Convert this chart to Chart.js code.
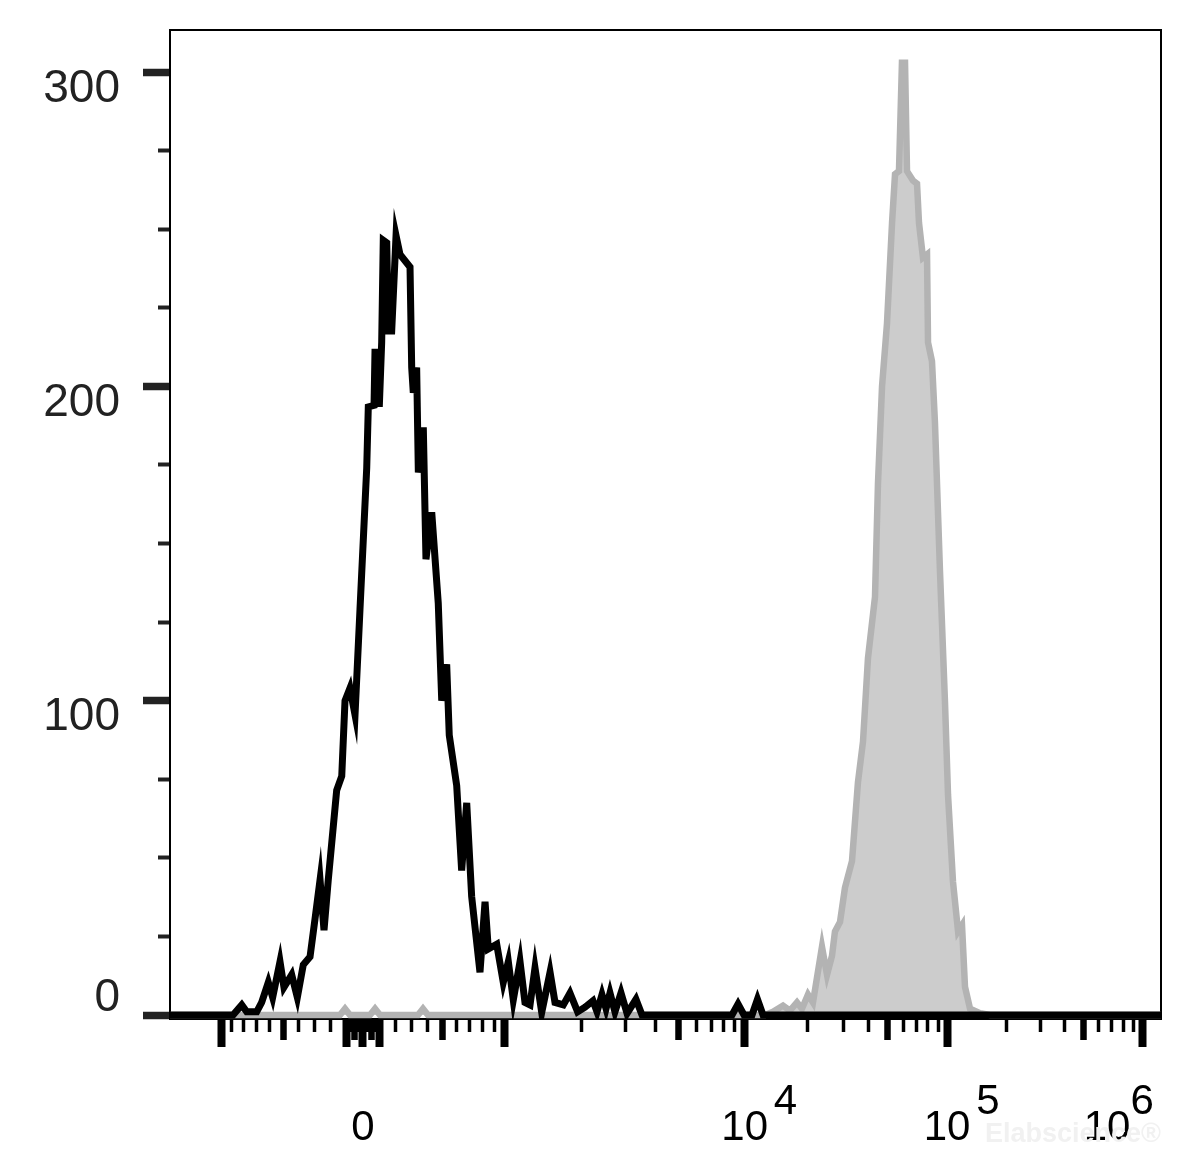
<!DOCTYPE html>
<html>
<head>
<meta charset="utf-8">
<script src="https://cdn.jsdelivr.net/npm/chart.js@4.4.0/dist/chart.umd.min.js"></script>
<style>
html,body{margin:0;padding:0;background:#ffffff;}
#wrap{width:1196px;height:1170px;position:relative;}
</style>
</head>
<body>
<div id="wrap"><canvas id="c" width="1196" height="1170"></canvas></div>
<script>
// ---------- DATA (histograms in display channels 0..1000, counts) ----------
const blackChannels = [0,63.6,72.4,77.4,87.5,92.5,99.2,103.6,111.0,115.0,122.8,128.5,134.5,141.3,146.3,151.4,155.4,159.7,168.2,173.3,176.6,181.6,186.7,191.7,198.5,200.1,205.9,206.9,211.2,213.6,215.2,218.7,220.3,223.7,228.1,232.1,242.2,243.9,245.5,248.9,250.6,255.6,258.3,264.1,270.7,274.2,279.2,281.8,289.3,294.3,299.4,304.4,312.8,317.9,321.2,329.7,336.3,341.4,346.4,353.2,358.2,363.3,368.3,375.1,383.5,388.5,396.9,403.6,411.3,418.8,426.8,430.9,435.9,440.0,444.0,449.0,455.1,461.2,470.2,476.3,567.1,573.2,579.2,587.3,592.8,598.4,1000];
const blackCounts = [0,0,3.2,1,1,4,10.4,5.6,17,8.8,12.8,5.6,16,18.5,30.5,43,27,43,71.5,76,100,104,95.5,129,174,193.5,194,212,193.5,214,246.5,245.7,217.6,217.6,248,242,238,206,198,206,172.6,187,145,160,131,100,111.6,89,73,46,67.5,37.7,13.6,36,21,22.5,10.4,17,4.8,17,4,3.2,15,0.8,13.6,4,3.2,7,1,2.5,4.5,1,6.5,2,7,1,7,0.5,5,0,0,3.5,0,0,5,0,0];

const grayChannels = [0,63.6,171.5,176.6,181.6,201.8,206.9,211.9,250.3,255.3,260.3,600.4,608.5,618.6,625.6,632.7,637.7,643.8,648.8,657.9,663.0,668.0,671.0,676.1,681.1,688.2,694.2,699.3,704.3,711.4,714.4,718.5,723.5,728.6,731.6,735.6,738.6,741.7,743.7,749.7,753.8,755.8,759.8,763.9,764.9,768.9,771.9,777.0,782.0,785.1,790.1,795.2,799.2,802.2,807.3,817.4,827.4,1000];
const grayCounts = [0,0,0,2,0,0,2,0,0,2,0,0,1,3,1.4,4,2,6.5,4,21.7,12.8,18.8,26.6,29.6,40.5,49,74,87,113.5,133,169,200,220,252,267.5,268.5,303,303,268.5,265.5,264.5,252,241,242,214,208,188.5,141,99.7,70,42.4,26.6,28.6,9,2,0.6,0,0];

// ---------- AXIS DEFINITIONS ----------
const yMajorTicks = [0, 100, 200, 300];
const yMinorTicks = [0, 25, 50, 75, 100, 125, 150, 175, 200, 225, 250, 275, 300];
const xDecades = [10, 100, 1000, 10000, 100000, 1000000];
const xMultipliers = [1, 2, 3, 4, 5, 6, 7, 8, 9];
const xMajorValues = [-1000, -100, 0, 100, 1000, 10000, 100000, 1000000];
const xLabelValues = [0, 10000, 100000, 1000000];
const xLabelBase = ['0', '10', '10', '10'];
const xLabelExp = ['', '4', '5', '6'];
const watermarkText = 'Elabscience\u00AE';

// logicle (biexponential) display transform parameters
const LOGICLE = {K: 96.3, P: 4.3, zeroChannel: 194.75, channelsPerUnit: 85.02};
function valueToChannel(v) {
  const a = Math.abs(v), K = LOGICLE.K, P = LOGICLE.P;
  const f = u => K * (Math.exp(u) - P * P * Math.exp(-u / P) + P * P - 1);
  let lo = 0, hi = 20;
  for (let i = 0; i < 80; i++) { const m = (lo + hi) / 2; if (f(m) < a) lo = m; else hi = m; }
  return LOGICLE.zeroChannel + Math.sign(v) * LOGICLE.channelsPerUnit * (lo + hi) / 2;
}
function tickLevel(v) {
  if (xMajorValues.includes(v)) return 2;
  const a = Math.abs(v);
  const d = Math.pow(10, Math.floor(Math.log10(a)));
  return Math.round(a / d) === 5 ? 1 : 0;
}
const allXTicks = (() => {
  const vals = [0];
  for (const d of xDecades) for (const m of xMultipliers) { vals.push(m * d); vals.push(-m * d); }
  return vals.map(v => ({raw: v, value: valueToChannel(v), level: tickLevel(v)}))
             .filter(t => t.value >= 0 && t.value <= 1000)
             .sort((a, b) => a.value - b.value);
})();
function xTicksAtLeast(level) {
  return allXTicks.filter(t => t.level >= level).map(t => ({value: t.value, raw: t.raw, level: t.level}));
}
function xLabelFor(raw) {
  const i = xLabelValues.indexOf(raw);
  if (i < 0) return '';
  if (xLabelExp[i] === '') return ['', xLabelBase[i]];
  if (i === xLabelValues.length - 1) return [xLabelExp[i], xLabelBase[i] + '      '];
  return ['       ' + xLabelExp[i], xLabelBase[i]];
}

const FONT = '"Liberation Sans", Arial, Helvetica, sans-serif';
Chart.defaults.font.family = FONT;

const X_MIN = 0, X_MAX = 1000, Y_MIN = -1.27, Y_MAX = 313.4;

function noPad(scale) { scale.paddingLeft = 0; scale.paddingRight = 0; scale.paddingTop = 0; scale.paddingBottom = 0; }

const xWidths = [3.5, 6.5, 8];

const watermark = {
  id: 'watermark',
  afterDraw(chart) {
    const ctx = chart.ctx, a = chart.chartArea;
    ctx.save();
    ctx.font = 'bold 27px ' + FONT;
    ctx.fillStyle = '#f1f1f1';
    ctx.textAlign = 'right';
    ctx.textBaseline = 'alphabetic';
    ctx.fillText(watermarkText, a.right, chart.height - 28);
    ctx.restore();
  }
};

new Chart(document.getElementById('c'), {
  type: 'line',
  data: {
    datasets: [
      {
        label: 'control',
        data: blackChannels.map((x, i) => ({x: x, y: blackCounts[i]})),
        borderColor: '#000000',
        borderWidth: 7,
        fill: false,
        pointRadius: 0,
        tension: 0,
        xAxisID: 'x', yAxisID: 'y'
      },
      {
        label: 'stained',
        data: grayChannels.map((x, i) => ({x: x, y: grayCounts[i]})),
        borderColor: '#b3b3b3',
        backgroundColor: '#cccccc',
        borderWidth: 6.5,
        fill: 'origin',
        pointRadius: 0,
        tension: 0,
        xAxisID: 'x', yAxisID: 'y'
      }
    ]
  },
  options: {
    responsive: false,
    animation: false,
    events: [],
    layout: {padding: {left: 0, right: 35, top: 30, bottom: 0}},
    plugins: {legend: {display: false}, tooltip: {enabled: false}},
    scales: {
      x: {
        type: 'linear', position: 'bottom', weight: 1, min: X_MIN, max: X_MAX,
        afterBuildTicks: s => { s.ticks = xTicksAtLeast(0); },
        afterFit: s => { s.height = 13; noPad(s); },
        border: {display: true, color: '#000', width: 2},
        grid: {display: true, drawOnChartArea: false, drawTicks: true, tickLength: 13,
               tickColor: '#000', tickWidth: c => xWidths[c.tick ? c.tick.level : 0]},
        ticks: {display: false, autoSkip: false, maxRotation: 0, minRotation: 0}
      },
      xMid: {
        type: 'linear', position: 'bottom', weight: 2, min: X_MIN, max: X_MAX,
        afterBuildTicks: s => { s.ticks = xTicksAtLeast(1); },
        afterFit: s => { s.height = 8; noPad(s); },
        border: {display: false},
        grid: {display: true, drawOnChartArea: false, drawTicks: true, tickLength: 8,
               tickColor: '#000', tickWidth: c => xWidths[c.tick ? c.tick.level : 1]},
        ticks: {display: false, autoSkip: false, maxRotation: 0, minRotation: 0}
      },
      xMaj: {
        type: 'linear', position: 'bottom', weight: 3, min: X_MIN, max: X_MAX,
        afterBuildTicks: s => { s.ticks = xTicksAtLeast(2); },
        afterFit: s => { s.height = 130; noPad(s); },
        border: {display: false},
        grid: {display: true, drawOnChartArea: false, drawTicks: true, tickLength: 7,
               tickColor: '#000', tickWidth: 8},
        ticks: {
          display: true, autoSkip: false, maxRotation: 0, minRotation: 0, padding: 42,
          color: '#000',
          font: {family: FONT, size: 42, lineHeight: 0.63},
          callback: (v, i, ticks) => xLabelFor(ticks[i].raw)
        }
      },
      xTop: {
        type: 'linear', position: 'top', min: X_MIN, max: X_MAX,
        border: {display: true, color: '#000', width: 2},
        grid: {display: false, drawTicks: false},
        ticks: {display: false},
        afterFit: s => { s.height = 0; noPad(s); }
      },
      y: {
        type: 'linear', position: 'left', weight: 1, min: Y_MIN, max: Y_MAX,
        afterBuildTicks: s => { s.ticks = yMinorTicks.map(v => ({value: v})); },
        afterFit: s => { s.width = 12; noPad(s); },
        border: {display: true, color: '#000', width: 2},
        grid: {display: true, drawOnChartArea: false, drawTicks: true, tickLength: 12,
               tickColor: '#222', tickWidth: c => (c.tick && yMajorTicks.includes(c.tick.value)) ? 7.5 : 4},
        ticks: {display: false, autoSkip: false}
      },
      yMaj: {
        type: 'linear', position: 'left', weight: 2, min: Y_MIN, max: Y_MAX,
        afterBuildTicks: s => { s.ticks = yMajorTicks.map(v => ({value: v})); },
        afterFit: s => { s.width = 158; noPad(s); },
        border: {display: false},
        grid: {display: true, drawOnChartArea: false, drawTicks: true, tickLength: 15,
               tickColor: '#222', tickWidth: 7.5},
        ticks: {
          display: true, autoSkip: false, padding: 23, color: '#222',
          font: {family: FONT, size: 46, lineHeight: 0.74},
          callback: v => v === 0 ? [String(v), ''] : ['', String(v)]
        }
      },
      yRight: {
        type: 'linear', position: 'right', min: Y_MIN, max: Y_MAX,
        border: {display: true, color: '#000', width: 2},
        grid: {display: false, drawTicks: false},
        ticks: {display: false},
        afterFit: s => { s.width = 0; noPad(s); }
      }
    }
  },
  plugins: [watermark]
});
</script>
</body>
</html>
